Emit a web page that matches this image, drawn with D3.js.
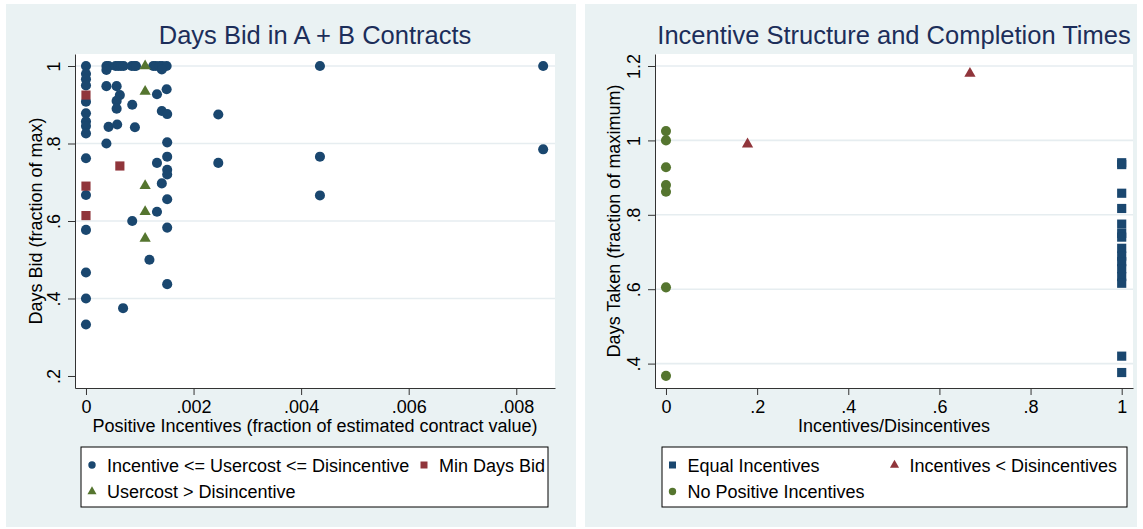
<!DOCTYPE html>
<html>
<head>
<meta charset="utf-8">
<script src="https://cdnjs.cloudflare.com/ajax/libs/d3/7.8.5/d3.min.js"></script>
<style>
body { margin: 0; background: #fff; }
text { font-family: "Liberation Sans", Arial, sans-serif; }
</style>
</head>
<body>
<div id="chart"></div>
<script>
(function () {
// ---- left graph: Days Bid in A + B Contracts
var bidTitle = "Days Bid in A + B Contracts";
var bidXLabel = "Positive Incentives (fraction of estimated contract value)";
var bidYLabel = "Days Bid (fraction of max)";
var bidXTicks = [0, .002, .004, .006, .008];
var bidYTicks = [.2, .4, .6, .8, 1];
var bidLegend = ["Incentive <= Usercost <= Disincentive", "Min Days Bid", "Usercost > Disincentive"];

// Incentive <= Usercost <= Disincentive
var bidInRange = [
  [0, 1], [0, .98], [0, .966], [0, .95], [0, .908], [0, .878], [0, .857], [0, .845], [0, .826],
  [0, .762], [0, .667], [0, .577], [0, .467], [0, .4], [0, .333],
  [.00038, 1], [.00042, 1], [.00055, 1], [.0006, 1], [.00065, 1], [.0007, 1], [.00085, 1], [.0009, 1],
  [.00093, 1], [.00125, 1], [.0013, 1], [.00137, 1], [.00142, 1], [.0015, 1], [.00038, .99], [.00141, .991],
  [.00038, .948], [.00057, .948], [.00063, .925], [.00057, .91], [.00057, .89], [.00086, .9],
  [.00042, .843], [.00058, .849], [.00091, .842], [.00038, .8],
  [.00132, .927], [.0015, .94], [.00141, .884], [.00151, .876], [.00246, .875], [.00151, .803],
  [.00151, .766], [.00132, .75], [.00246, .75], [.00151, .732], [.00151, .72], [.00141, .697],
  [.00151, .656], [.00132, .624], [.00086, .6], [.00151, .583], [.00118, .5], [.00151, .437], [.00069, .375],
  [.00435, 1], [.00435, .766], [.00435, .666], [.0085, 1], [.0085, .785]
];
// Min Days Bid
var bidMinDays = [[0, .925], [0, .69], [0, .614], [.00063, .742]];
// Usercost > Disincentive
var bidOverDis = [[.0011, 1], [.0011, .934], [.0011, .691], [.0011, .624], [.0011, .555]];

// ---- right graph: Incentive Structure and Completion Times
var timeTitle = "Incentive Structure and Completion Times";
var timeXLabel = "Incentives/Disincentives";
var timeYLabel = "Days Taken (fraction of maximum)";
var timeXTicks = [0, .2, .4, .6, .8, 1];
var timeYTicks = [.4, .6, .8, 1, 1.2];
var timeLegend = ["Equal Incentives", "Incentives < Disincentives", "No Positive Incentives"];

var timeEqual = [[1, .94], [1, .935], [1, .858], [1, .817], [1, .775], [1, .75], [1, .74], [1, .71],
  [1, .689], [1, .674], [1, .655], [1, .634], [1, .616], [1, .42], [1, .376]];
var timeLess = [[.179, .99], [.667, 1.18]];
var timeNoPos = [[0, 1.025], [0, 1], [0, .928], [0, .88], [0, .862], [0, .605], [0, .367]];

var navy = "#1a476f", maroon = "#90353b", green = "#55752f";
var bg = "#eaf2f3", grid = "#e6edf0", ink = "#000";

var svg = d3.select("#chart").append("svg").attr("width", 1143).attr("height", 529);

function fmt(v) {
  return String(+v.toFixed(6)).replace(/^0\./, ".");
}

function panel(p) {
  var g = svg.append("g");
  g.append("rect").attr("x", p.bx).attr("y", 4).attr("width", p.bw).attr("height", 523).attr("fill", bg);
  g.append("rect").attr("x", p.l).attr("y", p.t).attr("width", p.r - p.l).attr("height", p.b - p.t).attr("fill", "#fff");

  var x = d3.scaleLinear().domain(p.xDom).range([p.l, p.r]);
  var y = d3.scaleLinear().domain(p.yDom).range([p.b, p.t]);

  g.selectAll(".grid").data(p.grid).enter().append("line")
    .attr("x1", p.l).attr("x2", p.r)
    .attr("y1", function (d) { return y(d); })
    .attr("y2", function (d) { return y(d); })
    .attr("stroke", grid).attr("stroke-width", 1.6);

  var ya = g.append("g").attr("transform", "translate(" + p.l + ",0)")
    .call(d3.axisLeft(y).tickValues(p.yTicks).tickSize(7).tickSizeOuter(0).tickFormat(fmt));
  ya.selectAll("text").attr("x", 0).attr("dy", 0)
    .attr("transform", "translate(-15,0) rotate(-90)").attr("text-anchor", "middle");

  var xa = g.append("g").attr("transform", "translate(0," + p.b + ")")
    .call(d3.axisBottom(x).tickValues(p.xTicks).tickSize(7).tickSizeOuter(0).tickPadding(5).tickFormat(fmt));

  [ya, xa].forEach(function (a) {
    a.attr("font-size", 18).attr("font-family", null);
    a.selectAll("path, line").attr("stroke", "#333");
    a.selectAll("text").attr("fill", ink);
  });

  g.append("text").attr("x", (p.l + p.r) / 2).attr("y", 44).attr("text-anchor", "middle")
    .attr("font-size", 25.5).attr("fill", "#1c2e5a").text(p.title);
  g.append("text").attr("x", (p.l + p.r) / 2).attr("y", 432).attr("text-anchor", "middle")
    .attr("font-size", 18).attr("fill", ink).text(p.xLabel);
  g.append("text").attr("transform", "translate(" + p.yt + "," + (p.t + p.b) / 2 + ") rotate(-90)")
    .attr("text-anchor", "middle").attr("font-size", 18).attr("fill", ink).text(p.yLabel);

  p.series.forEach(function (s) {
    g.selectAll(null).data(s.data).enter().append("path")
      .attr("d", d3.symbol().type(s.type).size(s.size))
      .attr("transform", function (d) { return "translate(" + x(d[0]) + "," + y(d[1]) + ")"; })
      .attr("fill", s.color);
  });

  // legend box
  g.append("rect").attr("x", p.lx).attr("y", 447).attr("width", p.lw).attr("height", 60)
    .attr("fill", "#fff").attr("stroke", "#000").attr("stroke-width", 1);
  p.legend.forEach(function (e) {
    g.append("path").attr("d", d3.symbol().type(e.type).size(e.size))
      .attr("transform", "translate(" + e.x + "," + e.y + ")").attr("fill", e.color);
    g.append("text").attr("x", e.x + 15).attr("y", e.y + 6.5).attr("font-size", 18)
      .attr("fill", ink).text(e.label);
  });
}

panel({
  bx: 6, bw: 570, l: 75, r: 555, t: 54, b: 388, yt: 42,
  xDom: [-0.000204, 0.00872], yDom: [0.169, 1.031],
  xTicks: bidXTicks, yTicks: bidYTicks, grid: [.4, .6, .8, 1],
  title: bidTitle, xLabel: bidXLabel, yLabel: bidYLabel,
  series: [
    { data: bidInRange, type: d3.symbolCircle, size: 80, color: navy },
    { data: bidMinDays, type: d3.symbolSquare, size: 84, color: maroon },
    { data: bidOverDis, type: d3.symbolTriangle, size: 55, color: green }
  ],
  lx: 81, lw: 467,
  legend: [
    { x: 92, y: 465, type: d3.symbolCircle, size: 43, color: navy, label: bidLegend[0] },
    { x: 424, y: 465, type: d3.symbolSquare, size: 49, color: maroon, label: bidLegend[1] },
    { x: 92, y: 491.5, type: d3.symbolTriangle, size: 36, color: green, label: bidLegend[2] }
  ]
});

panel({
  bx: 585, bw: 552, l: 655, r: 1133, t: 54, b: 388, yt: 620,
  xDom: [-0.0241, 1.0248], yDom: [0.3344, 1.2323],
  xTicks: timeXTicks, yTicks: timeYTicks, grid: timeYTicks,
  title: timeTitle, xLabel: timeXLabel, yLabel: timeYLabel,
  series: [
    { data: timeEqual, type: d3.symbolSquare, size: 84, color: navy },
    { data: timeLess, type: d3.symbolTriangle, size: 55, color: maroon },
    { data: timeNoPos, type: d3.symbolCircle, size: 80, color: green }
  ],
  lx: 662, lw: 465,
  legend: [
    { x: 672.5, y: 465, type: d3.symbolSquare, size: 49, color: navy, label: timeLegend[0] },
    { x: 894.5, y: 465, type: d3.symbolTriangle, size: 36, color: maroon, label: timeLegend[1] },
    { x: 672.5, y: 491.5, type: d3.symbolCircle, size: 43, color: green, label: timeLegend[2] }
  ]
});
})();
</script>
</body>
</html>
